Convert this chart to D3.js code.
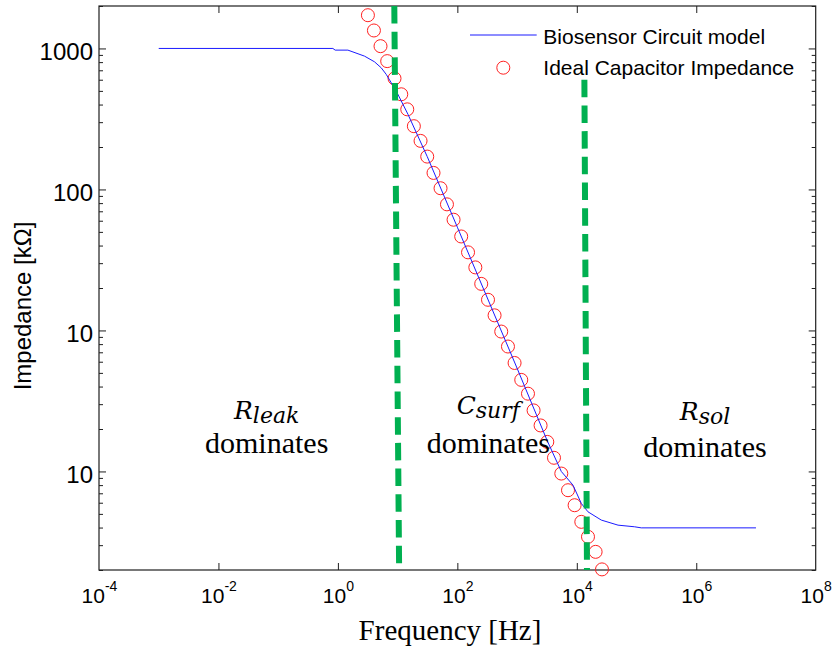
<!DOCTYPE html>
<html>
<head>
<meta charset="utf-8">
<script src="https://cdn.jsdelivr.net/npm/d3@7"></script>
<style>
  html, body { margin: 0; padding: 0; background: #fff; }
  svg { display: block; }
</style>
</head>
<body>
<svg id="chart" width="834" height="653"></svg>
<script>
// values (frequency in Hz, impedance in the axis units)
const modelFreq = [1e-3, 0.824, 0.9, 1.47, 2.79, 4.1, 5.31, 6.44, 7.81, 10.1, 14.9, 31.3, 100, 1000, 3200, 5500, 8630, 11900, 15400, 25700, 49000, 92900, 120000, 1e7];
const modelZ    = [1000, 1000, 973, 973, 882, 804, 729, 655, 571, 473, 341, 171, 54, 5.4, 1.65, 1.0, 0.8, 0.593, 0.517, 0.452, 0.416, 0.405, 0.398, 0.398];

const capFreq = [3.18, 4.01, 5.17, 6.69, 8.87, 11.5, 14.5, 18.7, 24.2, 31.3, 39.9, 52.3, 67.0, 86.4, 116, 151, 200, 251,
                 326, 420, 543, 704, 908, 1175, 1523, 1890, 2475, 3206, 4150, 5500, 7125, 9190, 11900, 15400, 20650, 26400];
const capZ    = [1721, 1341, 1038, 813, 613, 473, 370, 281, 221, 171, 131, 102, 78.4, 61.0, 46.4, 35.8, 28.0, 21.4,
                 16.5, 12.8, 9.82, 7.69, 5.88, 4.46, 3.56, 2.71, 2.12, 1.62, 1.25, 0.966, 0.736, 0.576, 0.439, 0.344, 0.269, 0.202];

const leakLimitFreq = [8.8, 10.6];
const leakLimitZ    = [2000, 0.2];
const solLimitFreq  = [13400, 14800];
const solLimitZ     = [600, 0.2];

const xTickValues = [1e-4, 1e-2, 1, 1e2, 1e4, 1e6, 1e8];
const xTickExp    = ['-4', '-2', '0', '2', '4', '6', '8'];
const yTickValues = [1, 10, 100, 1000];
const yTickLabels = ['10', '10', '100', '1000'];

const regionSymbol = ['R', 'C', 'R'];
const regionSub    = ['leak', 'surf', 'sol'];
const legendLabels = ['Biosensor Circuit model', 'Ideal Capacitor Impedance'];

(() => {
  const svg = d3.select('#chart');
  const left = 99, right = 815.7, top = 6, bottom = 570;
  const ink = '#1e1e1e';
  const sans = "Arial, 'Liberation Sans', sans-serif";
  const serif = "'Times New Roman', 'Liberation Serif', serif";
  const mathFont = "'DejaVu Serif', serif";

  const x = d3.scaleLog().domain([1e-4, 1e8]).range([left, right]);
  const y = d3.scaleLog().domain([0.2, 2000]).range([bottom, top]);

  const minorY = y.ticks().filter(v => !yTickValues.includes(v) && Math.abs(Math.log10(v) % 1) > 1e-6);

  // axes, ticks point inward
  const styleAxis = g => {
    g.select('.domain').remove();
    g.selectAll('.tick line').attr('stroke', ink).attr('stroke-width', 1);
  };

  const gx = svg.append('g').attr('transform', `translate(0,${bottom})`)
    .call(d3.axisBottom(x).tickValues(xTickValues).tickSize(-7).tickPadding(18).tickFormat(() => '10'))
    .call(styleAxis);
  gx.selectAll('.tick text')
    .attr('font-family', sans).attr('font-size', 21).attr('fill', '#000')
    .each(function (d, i) {
      d3.select(this).append('tspan').attr('dy', -12).attr('font-size', 14).text(xTickExp[i]);
    });
  gx.selectAll('.tick').filter(d => d === 1e-4 || d === 1e8).select('line').remove();

  svg.append('g').attr('transform', `translate(0,${top})`)
    .call(d3.axisTop(x).tickValues(xTickValues.slice(1, -1)).tickSize(-7).tickFormat(''))
    .call(styleAxis);

  const gy = svg.append('g').attr('transform', `translate(${left},0)`)
    .call(d3.axisLeft(y).tickValues(yTickValues).tickSize(-7).tickPadding(6).tickFormat((d, i) => yTickLabels[i]))
    .call(styleAxis);
  gy.selectAll('.tick text')
    .attr('font-family', sans).attr('font-size', 24).attr('fill', '#000').attr('dy', '0.45em');

  svg.append('g').attr('transform', `translate(${left},0)`)
    .call(d3.axisLeft(y).tickValues(minorY).tickSize(-4).tickFormat(''))
    .call(styleAxis);
  svg.append('g').attr('transform', `translate(${right},0)`)
    .call(d3.axisRight(y).tickValues(yTickValues).tickSize(-7).tickFormat(''))
    .call(styleAxis);
  svg.append('g').attr('transform', `translate(${right},0)`)
    .call(d3.axisRight(y).tickValues(minorY).tickSize(-4).tickFormat(''))
    .call(styleAxis);

  svg.append('rect')
    .attr('x', left).attr('y', top).attr('width', right - left).attr('height', bottom - top)
    .attr('fill', 'none').attr('stroke', ink).attr('stroke-width', 1.2);

  // ideal capacitor markers
  svg.append('g').selectAll('circle')
    .data(d3.zip(capFreq, capZ))
    .join('circle')
    .attr('cx', d => x(d[0])).attr('cy', d => y(d[1])).attr('r', 6.5)
    .attr('fill', 'none').attr('stroke', '#ff2020').attr('stroke-width', 1);

  // circuit model
  const line = d3.line().x(d => x(d[0])).y(d => y(d[1]));
  svg.append('path')
    .datum(d3.zip(modelFreq, modelZ))
    .attr('d', line)
    .attr('fill', 'none').attr('stroke', '#1a1aff').attr('stroke-width', 1);

  // region borders
  [[leakLimitFreq, leakLimitZ], [solLimitFreq, solLimitZ]].forEach(([fs, zs]) => {
    svg.append('path')
      .datum(d3.zip(fs, zs))
      .attr('d', line)
      .attr('fill', 'none').attr('stroke', '#00b050').attr('stroke-width', 6)
      .attr('stroke-dasharray', '17.5 8.2');
  });

  // region annotations
  const regionX = [266.7, 488.3, 705];
  const symbolY = [419.3, 414, 420];
  const domY = [453.3, 453, 456.7];
  regionSymbol.forEach((s, i) => {
    const t = svg.append('text')
      .attr('x', regionX[i]).attr('y', symbolY[i])
      .attr('text-anchor', 'middle').attr('font-family', mathFont)
      .attr('font-style', 'italic').attr('fill', '#000');
    t.append('tspan').attr('font-size', 25).text(s);
    t.append('tspan').attr('font-size', 22).attr('dy', 4).text(regionSub[i]);
    svg.append('text')
      .attr('x', regionX[i]).attr('y', domY[i])
      .attr('text-anchor', 'middle').attr('font-family', serif)
      .attr('font-size', 30).attr('fill', '#000')
      .text('dominates');
  });

  // legend
  svg.append('line')
    .attr('x1', 470).attr('x2', 536.7).attr('y1', 35).attr('y2', 35)
    .attr('stroke', '#1a1aff').attr('stroke-width', 1);
  svg.append('circle')
    .attr('cx', 503.3).attr('cy', 67.7).attr('r', 6.5)
    .attr('fill', 'none').attr('stroke', '#ff2020').attr('stroke-width', 1);
  svg.selectAll('.legend-label')
    .data(legendLabels)
    .join('text')
    .attr('class', 'legend-label')
    .attr('x', 543.3).attr('y', (d, i) => [44, 75][i])
    .attr('font-family', sans).attr('font-size', 21).attr('fill', '#000')
    .text(d => d);

  // axis titles
  svg.append('text')
    .attr('x', 450).attr('y', 640)
    .attr('text-anchor', 'middle').attr('font-family', serif)
    .attr('font-size', 29).attr('fill', '#000')
    .text('Frequency [Hz]');
  svg.append('text')
    .attr('transform', 'translate(31,306) rotate(-90)')
    .attr('text-anchor', 'middle').attr('font-family', sans)
    .attr('font-size', 24).attr('fill', '#000')
    .text('Impedance [kΩ]');
})();
</script>
</body>
</html>
